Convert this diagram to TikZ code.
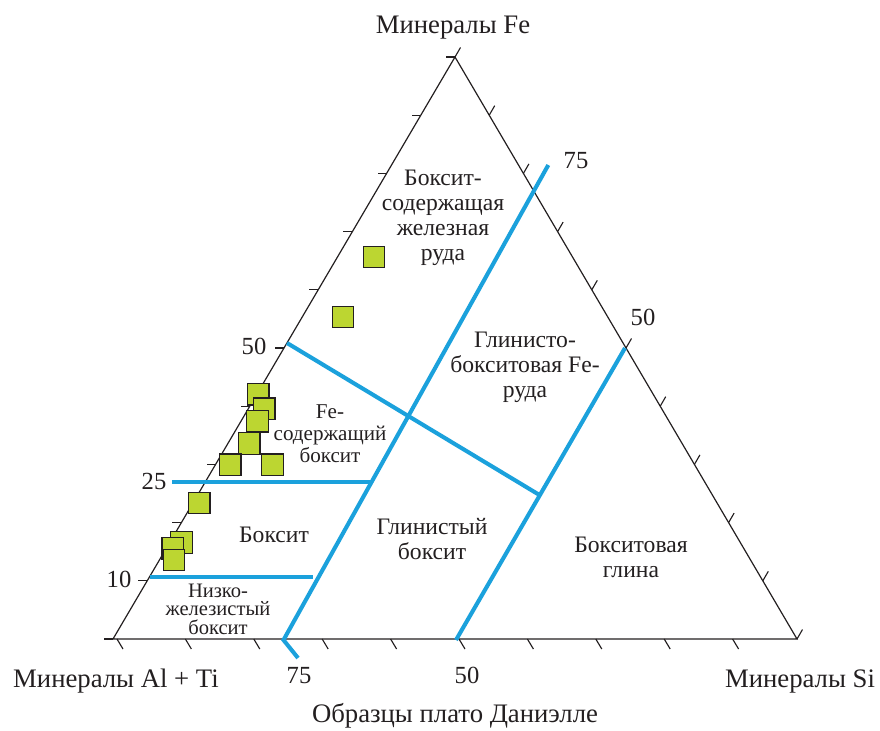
\documentclass[tikz,border=0pt]{standalone}
\usepackage{fontspec}
\setmainfont{Liberation Serif}
\usetikzlibrary{calc}
\definecolor{lineblue}{RGB}{27,161,220}
\definecolor{sqfill}{RGB}{188,214,49}
\definecolor{ink}{RGB}{35,31,32}
\begin{document}
\begin{tikzpicture}[x=0.025cm,y=-0.025cm,
  frame/.style={line width=0.85pt,ink},
  tickmark/.style={line width=0.8pt,ink},
  boundary/.style={line width=2.9pt,lineblue},
  sample/.style={draw=ink,line width=0.8pt,fill=sqfill,minimum size=0.54cm,inner sep=0pt},
  axislabel/.style={font=\fontsize{19}{23}\selectfont,text=ink,inner sep=0pt,anchor=base},
  numlabel/.style={font=\fontsize{17.5}{21}\selectfont,text=ink,inner sep=0pt,anchor=base},
  region/.style={font=\fontsize{16.8}{17.7}\selectfont,text=ink,inner sep=0pt,align=center,anchor=north},
  smallregion/.style={font=\fontsize{15}{15.9}\selectfont,text=ink,inner sep=0pt,align=center,anchor=north}]
\useasboundingbox (0,0) rectangle (880,730);

% triangle vertices
\coordinate (A) at (113,639);
\coordinate (S) at (797,639);
\coordinate (F) at (455,57);
\draw[frame] (A) -- (S) -- (F) -- cycle;

% ticks
\foreach \k in {0,...,10}{
  \draw[tickmark] ($(A)!\k/10!(F)$) -- ++(-9,0);
  \draw[tickmark] ($(S)!\k/10!(F)$) -- ++(5.5,-9.5);
}
\foreach \k in {0,...,9}{
  \draw[tickmark] ($(A)!\k/10!(S)+(4,0)$) -- ++(6,10);
}

% boundary lines
\coordinate (b4a) at (548.3,165);
\coordinate (b4b) at (283.5,640);
\coordinate (b4c) at (298,658);
\coordinate (b5a) at (625,348);
\coordinate (b5b) at (456,640);
\coordinate (b1a) at (287,343);
\coordinate (b1b) at (539.5,495);
\coordinate (b2a) at (172,482);
\coordinate (b2b) at (371,482);
\coordinate (b3a) at (150,577);
\coordinate (b3b) at (313,577);
\draw[boundary] (b4a) -- (b4b) -- (b4c);
\draw[boundary] (b5a) -- (b5b);
\draw[boundary] (b1a) -- (b1b);
\draw[boundary] (b2a) -- (b2b);
\draw[boundary] (b3a) -- (b3b);

% samples
\node[sample] (s1) at (374,257) {};
\node[sample] (s2) at (343,317) {};
\node[sample] (s3) at (258.2,394.2) {};
\node[sample] (s4) at (264.2,408.8) {};
\node[sample] (s5) at (257.5,421.2) {};
\node[sample] (s6) at (249.2,443.3) {};
\node[sample] (s7) at (230.2,464.8) {};
\node[sample] (s8) at (272.5,464.8) {};
\node[sample] (s9) at (199.2,503) {};
\node[sample] (s10) at (181.5,542.7) {};
\node[sample] (s11) at (172.8,548.3) {};
\node[sample] (s12) at (174,560) {};

% axis labels
\node[axislabel] (tFe) at (453,33) {Минералы Fe};
\node[axislabel] (tAl) at (116,687) {Минералы Al + Ti};
\node[axislabel] (tSi) at (800,687) {Минералы Si};
\node[axislabel] (tDan) at (455,722) {Образцы плато Даниэлле};

% numbers
\node[numlabel] (nL50) at (254,354) {50};
\node[numlabel] (nL25) at (154,489) {25};
\node[numlabel] (nL10) at (119,587) {10};
\node[numlabel] (nR75) at (576,168) {75};
\node[numlabel] (nR50) at (643,325) {50};
\node[numlabel] (nB75) at (299,683) {75};
\node[numlabel] (nB50) at (467,683) {50};

% region labels
\node[region] (r1) at (443,170) {Боксит-\\содержащая\\железная\\руда};
\node[region] (r2) at (525,331.7) {Глинисто-\\бокситовая Fe-\\руда};
\node[smallregion] (r3) at (330,404) {Fe-\\содержащий\\боксит};
\node[region] (r4) at (274,526.7) {Боксит};
\node[region] (r5) at (432,518.3) {Глинистый\\боксит};
\node[region] (r6) at (631,536.7) {Бокситовая\\глина};
\node[smallregion,font=\fontsize{14.6}{12.9}\selectfont] (r7) at (218,584) {Низко-\\железистый\\боксит};
\end{tikzpicture}
\end{document}
